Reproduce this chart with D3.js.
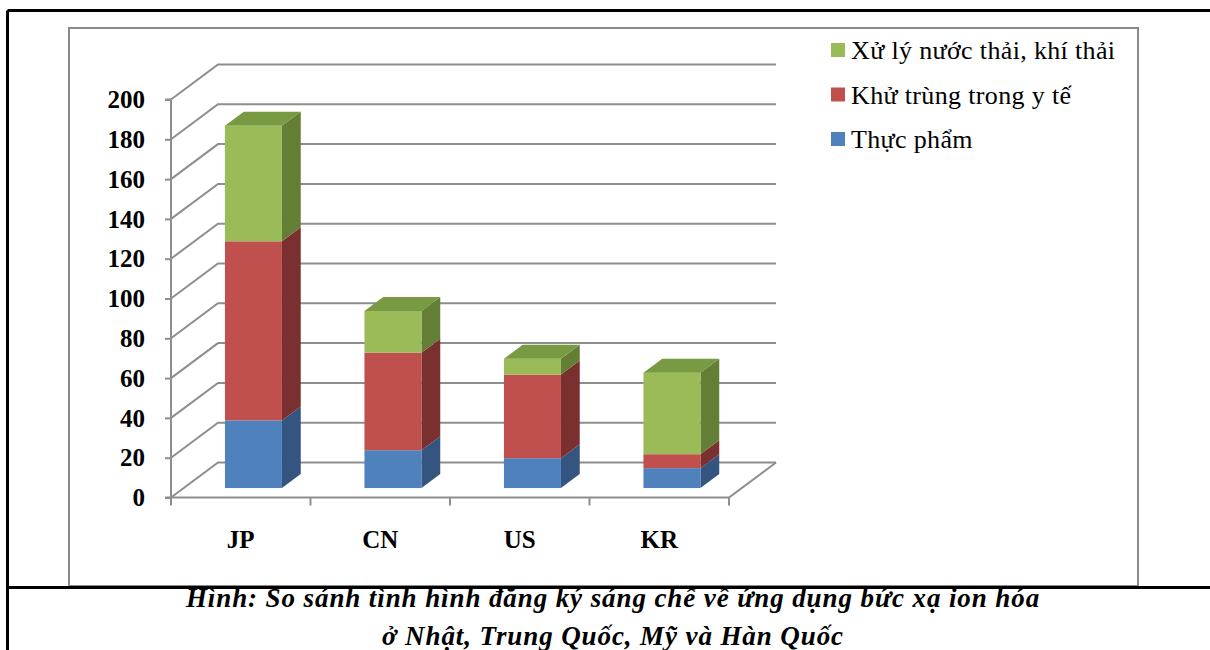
<!DOCTYPE html>
<html>
<head>
<meta charset="utf-8">
<script src="https://cdn.jsdelivr.net/npm/d3@7/dist/d3.min.js"></script>
<style>
  html, body { margin: 0; padding: 0; background: #fff; }
  svg { display: block; }
</style>
</head>
<body>
<svg id="chart" width="1210" height="650"></svg>
<script>
// Patent registrations by country and application field
const categories = ["JP", "CN", "US", "KR"];
const thucPham  = [34, 19, 15, 10];   // Thực phẩm
const khuTrung  = [90, 49, 42, 7];    // Khử trùng trong y tế
const xuLy      = [58, 21, 8, 41];    // Xử lý nước thải, khí thải
const seriesNames = ["Thực phẩm", "Khử trùng trong y tế", "Xử lý nước thải, khí thải"];
const yTicks = [0, 20, 40, 60, 80, 100, 120, 140, 160, 180, 200];
const captionLines = [
  "Hình: So sánh tình hình đăng ký sáng chế về ứng dụng bức xạ ion hóa",
  "ở Nhật, Trung Quốc, Mỹ và Hàn Quốc"
];

const FONT = "'Liberation Serif', 'Times New Roman', serif";
const palette = [
  { front: "#4F81BD", side: "#34557F", top: "#3E6597" },
  { front: "#C0504D", side: "#7A302E", top: "#9A3D3A" },
  { front: "#9BBB59", side: "#647E35", top: "#789A42" }
];
const gridColor = "#8E8E8E";

const svg = d3.select("#chart");

// Frames
svg.append("line").attr("x1", 7.5).attr("y1", 10.5).attr("x2", 1210).attr("y2", 10.5)
  .attr("stroke", "#000").attr("stroke-width", 3);
svg.append("line").attr("x1", 7.5).attr("y1", 10.5).attr("x2", 7.5).attr("y2", 650)
  .attr("stroke", "#000").attr("stroke-width", 3);
svg.append("rect").attr("x", 69).attr("y", 28).attr("width", 1069).attr("height", 558)
  .attr("fill", "none").attr("stroke", "#8A8A8A").attr("stroke-width", 2);
svg.append("line").attr("x1", 7.5).attr("y1", 587.5).attr("x2", 1210).attr("y2", 587.5)
  .attr("stroke", "#000").attr("stroke-width", 3);

// Scales and oblique projection of depth
const DX = 47, DY = 35;          // offset from front plane to back wall
const x0 = 171, x1 = 729;
const y = d3.scaleLinear().domain([0, 200]).range([497.5, 99.5]);
const pIn = 1 - 57 / ((x1 - x0) / categories.length);
const x = d3.scaleBand().domain(categories).range([x0, x1])
  .paddingInner(pIn).paddingOuter(pIn / 2);
const zFront = 0.27, zBack = 0.67;

const grid = svg.append("g").attr("fill", "none").attr("stroke", gridColor).attr("stroke-width", 2);

// Side wall diagonals and back wall gridlines
yTicks.forEach(t => {
  const yy = y(t);
  grid.append("path").attr("d", `M${x0},${yy}L${x0 + DX},${yy - DY}L${x1 + DX},${yy - DY}`);
});
// Floor front edge and right edge
grid.append("path").attr("d", `M${x0},${y(0)}L${x1},${y(0)}L${x1 + DX},${y(0) - DY}`);

// Value axis
const yAxis = d3.axisLeft(y).tickValues(yTicks).tickSize(6).tickPadding(20).tickFormat(d3.format("d"));
const yg = svg.append("g").attr("transform", `translate(${x0},0)`).call(yAxis);
yg.select(".domain").attr("stroke", gridColor).attr("stroke-width", 2)
  .attr("d", `M-6,${y(200)}H0V${y(0)}H-6`);
yg.selectAll(".tick line").attr("stroke", gridColor).attr("stroke-width", 2);
yg.selectAll(".tick text")
  .style("font-family", FONT)
  .style("font-size", "25px").style("font-weight", "bold").attr("fill", "#000")
  .attr("dy", "0.33em");

// Category boundary ticks
const step = x.step();
d3.range(categories.length + 1).forEach(i => {
  const xx = x0 + i * step;
  grid.append("line").attr("x1", xx).attr("x2", xx).attr("y1", y(0)).attr("y2", y(0) + 8);
});

// Category labels
svg.append("g").selectAll("text").data(categories).join("text")
  .attr("x", d => x(d) + x.bandwidth() / 2)
  .attr("y", 548)
  .attr("text-anchor", "middle")
  .style("font-family", FONT)
  .style("font-size", "25px").style("font-weight", "bold")
  .text(d => d);

// Stacked 3D bars
const stackRows = categories.map((c, i) => ({ cat: c, s0: thucPham[i], s1: khuTrung[i], s2: xuLy[i] }));
const stacked = d3.stack().keys(["s0", "s1", "s2"])(stackRows);

const bars = svg.append("g");
categories.forEach((c, ci) => {
  const bx = x(c) + zFront * DX;
  const bw = x.bandwidth();
  const dx = (zBack - zFront) * DX, dy = (zBack - zFront) * DY;
  stacked.forEach((layer, si) => {
    const [v0, v1] = layer[ci];
    const yb = y(v0) - zFront * DY, yt = y(v1) - zFront * DY;
    const col = palette[si];
    // side face
    bars.append("path")
      .attr("d", `M${bx + bw},${yb}L${bx + bw + dx},${yb - dy}L${bx + bw + dx},${yt - dy}L${bx + bw},${yt}Z`)
      .attr("fill", col.side);
    // front face
    bars.append("rect").attr("x", bx).attr("y", yt).attr("width", bw).attr("height", yb - yt)
      .attr("fill", col.front);
    // top face of the highest segment
    if (si === stacked.length - 1) {
      bars.append("path")
        .attr("d", `M${bx},${yt}L${bx + bw},${yt}L${bx + bw + dx},${yt - dy}L${bx + dx},${yt - dy}Z`)
        .attr("fill", col.top);
    }
  });
});

// Legend (top series first)
const legendItems = [2, 1, 0];
const lg = svg.append("g");
legendItems.forEach((si, k) => {
  const cy = 50 + k * 44.5;
  lg.append("rect").attr("x", 831).attr("y", cy - 7).attr("width", 14).attr("height", 14)
    .attr("fill", palette[si].front);
  lg.append("text").attr("x", 851).attr("y", cy + 9)
    .style("font-family", FONT)
    .style("font-size", "26px").style("letter-spacing", "0.35px").text(seriesNames[si]);
});

// Caption
svg.append("g").selectAll("text").data(captionLines).join("text")
  .attr("x", 613).attr("y", (d, i) => 607 + i * 38)
  .attr("text-anchor", "middle")
  .style("font-family", FONT)
  .style("font-size", "27px").style("font-weight", "bold").style("font-style", "italic")
  .style("letter-spacing", "0.9px")
  .text(d => d);
</script>
</body>
</html>
